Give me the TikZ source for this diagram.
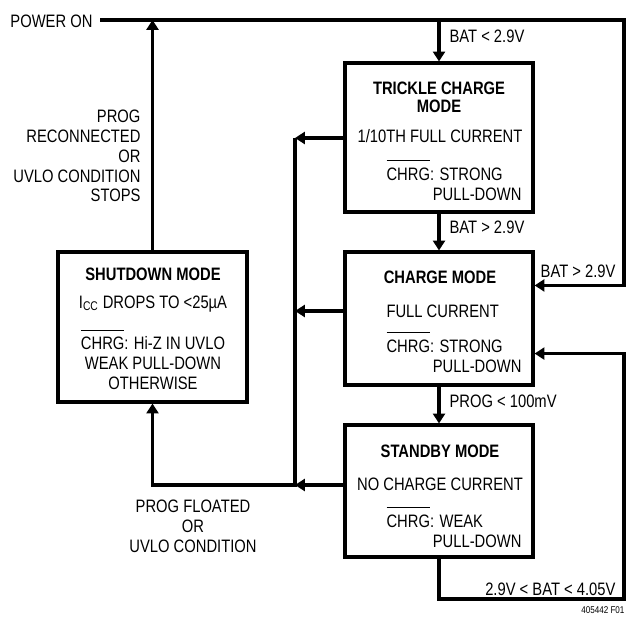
\documentclass[tikz,border=0pt]{standalone}
\usepackage{fontspec}
\setmainfont[FakeStretch=0.82]{Liberation Sans}
\usetikzlibrary{arrows.meta}
\usetikzlibrary{calc}
\newsavebox{\chrgbox}
\newcommand{\chrgbar}{\sbox{\chrgbox}{CHRG}\smash{\rlap{\rule[\dimexpr\ht\chrgbox+4.5pt\relax]{\wd\chrgbox}{0.7pt}}}\usebox{\chrgbox}}

\begin{document}
\begin{tikzpicture}[x=0.025cm,y=-0.025cm,line width=2.2pt,
    font=\fontsize{12.8}{14.2}\selectfont,
    box/.style={draw,line width=2.2pt,minimum width=4.7cm,inner sep=0pt},
    txt/.style={inner sep=0pt},
    arr/.style={-{Triangle[length=7pt,width=8.5pt]}}]
  \useasboundingbox (0,0) rectangle (628,616);

  % state boxes
  \node[box,minimum height=3.725cm] (trickle) at (439,137.5) {};
  \node[box,minimum height=3.325cm] (charge) at (439,318.5) {};
  \node[box,minimum height=3.3cm] (standby) at (439,491) {};
  \node[box,minimum width=4.725cm,minimum height=3.75cm] (shutdown) at (152.5,327) {};

  % trickle charge mode
  \node[txt,anchor=base] (trickle title) at (439,95) {\textbf{TRICKLE CHARGE}};
  \node[txt,anchor=base] (trickle mode) at (439,113) {\textbf{MODE}};
  \node[txt,anchor=base] (trickle cur) at (440,143) {1/10TH FULL CURRENT};
  \node[txt,anchor=base west] (trickle chrg) at (385,180) {\chrgbar: STRONG};
  \node[txt,anchor=base east] (trickle pull) at (523,200) {PULL-DOWN};

  % charge mode
  \node[txt,anchor=base] (charge title) at (440,283) {\textbf{CHARGE MODE}};
  \node[txt,anchor=base west] (charge cur) at (385,317) {FULL CURRENT};
  \node[txt,anchor=base west] (charge chrg) at (385,352) {\chrgbar: STRONG};
  \node[txt,anchor=base east] (charge pull) at (523,372) {PULL-DOWN};

  % standby mode
  \node[txt,anchor=base] (standby title) at (440,457) {\textbf{STANDBY MODE}};
  \node[txt,anchor=base] (standby cur) at (440,490) {NO CHARGE CURRENT};
  \node[txt,anchor=base west] (standby chrg) at (385,527) {\chrgbar: WEAK};
  \node[txt,anchor=base east] (standby pull) at (523,547) {PULL-DOWN};

  % shutdown mode
  \node[txt,anchor=base] (shutdown title) at (153,280) {\textbf{SHUTDOWN MODE}};
  \node[txt,anchor=base] (shutdown cur) at (153,308) {I\textsubscript{CC} DROPS TO <25µA};
  \node[txt,anchor=north,align=center] (shutdown chrg) at (153,335) {\chrgbar: Hi-Z IN UVLO\\WEAK PULL-DOWN\\OTHERWISE};

  % transition labels
  \node[txt,anchor=east] (pwr) at (94,21.5) {POWER ON};
  \node[txt,anchor=base west] (bat low) at (448,43) {BAT < 2.9V};
  \node[txt,anchor=base west] (bat mid) at (448,233) {BAT > 2.9V};
  \node[txt,anchor=base east] (bat right) at (617,277) {BAT > 2.9V};
  \node[txt,anchor=base west] (prog low) at (448,407) {PROG < 100mV};
  \node[txt,anchor=base east] (bat band) at (617,595) {2.9V < BAT < 4.05V};
  \node[txt,anchor=north east,align=right] (reconnect) at (142,108) {PROG\\RECONNECTED\\OR\\UVLO CONDITION\\STOPS};
  \node[txt,anchor=north,align=center] (floated) at (193,498) {PROG FLOATED\\OR\\UVLO CONDITION};
  \node[txt,anchor=base east,font=\fontsize{7}{8}\selectfont] (fig id) at (626,613) {405442 F01};

  % connectors
  \coordinate (pwrend) at (100,20);
  \coordinate (ne) at (624,20);
  \coordinate (se) at (624,599);
  \coordinate (chgin) at ($(charge.north east)+(0,35)$);
  \coordinate (chgback) at ($(charge.south east)+(0,-33)$);
  \coordinate (bus1) at (295,138);
  \coordinate (bus2) at (295,311);
  \coordinate (bus3) at (295,485);

  \draw[arr] (pwrend) -- (ne) |- (chgin);
  \draw[arr] (trickle.north |- ne) -- (trickle.north);
  \draw[arr] (trickle.south) -- (charge.north);
  \draw[arr] (charge.south) -- (standby.north);
  \draw[arr] (standby.south) |- (se) |- (chgback);

  \draw[arr] (trickle.west |- bus1) -- (bus1);
  \draw[arr] (charge.west |- bus2) -- (bus2);
  \draw[arr] (standby.west |- bus3) -- (bus3);
  \draw[arr] (bus1) -- (bus3) -| (shutdown.south);
  \draw[arr] (shutdown.north) -- (shutdown.north |- ne);
\end{tikzpicture}
\end{document}
